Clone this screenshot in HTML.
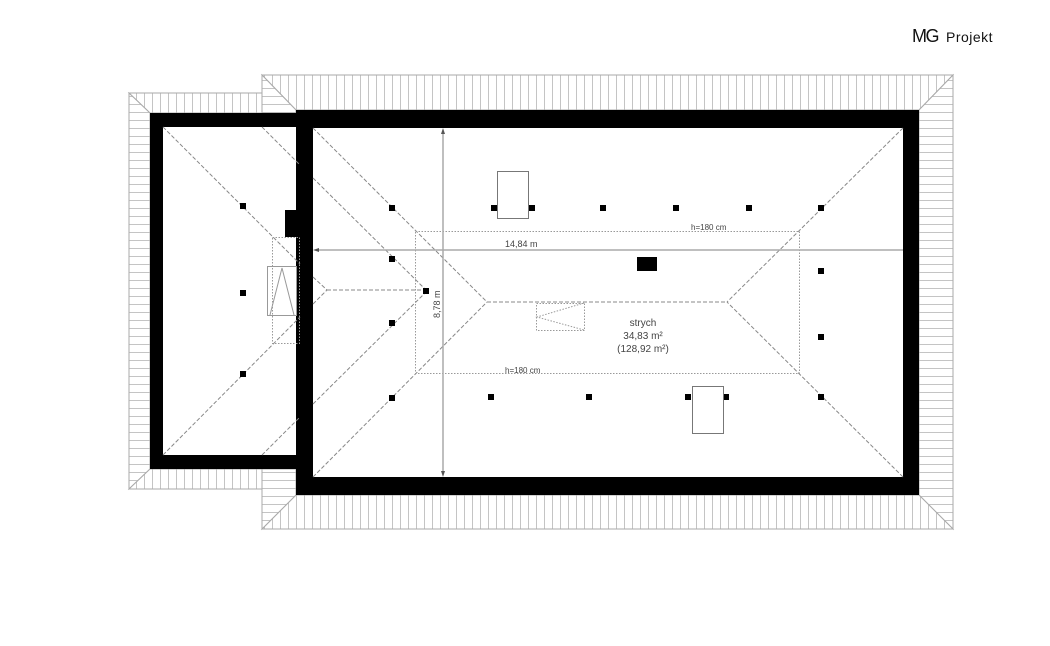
<!DOCTYPE html>
<html><head><meta charset="utf-8"><style>
html,body{margin:0;padding:0;background:#fff;width:1050px;height:646px;overflow:hidden}
svg{display:block}
text{font-family:"Liberation Sans",sans-serif;fill:#444}
</style></head><body>
<svg width="1050" height="646" viewBox="0 0 1050 646" xmlns="http://www.w3.org/2000/svg">
<defs>
<pattern id="v" width="8" height="8" patternUnits="userSpaceOnUse"><rect width="8" height="8" fill="#fff"/><line x1="0.5" y1="0" x2="0.5" y2="8" stroke="#c4c4c4" stroke-width="1"/></pattern>
<pattern id="h" width="8" height="8" patternUnits="userSpaceOnUse"><rect width="8" height="8" fill="#fff"/><line x1="0" y1="0.5" x2="8" y2="0.5" stroke="#c4c4c4" stroke-width="1"/></pattern>
</defs>
<g stroke="#aaa" stroke-width="1">
<polygon points="262,75 953,75 919,110 296,110" fill="url(#v)"/>
<polygon points="953,75 953,529 919,495 919,110" fill="url(#h)"/>
<polygon points="262,529 953,529 919,495 296,495" fill="url(#v)"/>
<polygon points="262,75 296,110 296,113 262,113" fill="url(#h)"/>
<polygon points="262,469 296,469 296,495 262,529" fill="url(#h)"/>
<polygon points="129,93 262,93 262,113 150,113" fill="url(#v)"/>
<polygon points="129,93 150,113 150,469 129,489" fill="url(#h)"/>
<polygon points="129,489 150,469 262,469 262,489" fill="url(#v)"/>
</g>
<path fill="#000" fill-rule="evenodd" d="M296,110H919V495H296Z M313,128H903V477H313Z"/>
<path fill="#000" fill-rule="evenodd" d="M150,113H300V469H150Z M163,127H300V455H163Z"/>
<rect x="296" y="113" width="17" height="382" fill="#000"/>
<rect x="285" y="210" width="15" height="27" fill="#000"/>
<g stroke="#888" stroke-width="1" stroke-dasharray="4,2" fill="none">
<line x1="313" y1="128" x2="487" y2="302"/>
<line x1="903" y1="128" x2="727" y2="302"/>
<line x1="313" y1="477" x2="487" y2="302"/>
<line x1="903" y1="477" x2="727" y2="302"/>
<line x1="487" y1="302" x2="727" y2="302"/>
<line x1="163" y1="127" x2="300" y2="264"/>
<line x1="313" y1="277" x2="327" y2="290"/>
<line x1="163" y1="455" x2="300" y2="317"/>
<line x1="313" y1="304" x2="327" y2="290"/>
<line x1="262" y1="127" x2="300" y2="165"/>
<line x1="313" y1="178" x2="427" y2="291"/>
<line x1="262" y1="455" x2="300" y2="417"/>
<line x1="313" y1="404" x2="427" y2="291"/>
<line x1="327" y1="290" x2="427" y2="290"/>
</g>
<g stroke="#999" stroke-width="1" stroke-dasharray="1.5,1.5" fill="none">
<rect x="415.5" y="231.5" width="384" height="142"/>
<rect x="272.5" y="237.5" width="27" height="106"/>
<rect x="536.5" y="303.5" width="48" height="27"/>
<polyline points="584,303 537,317 584,330"/>
</g>
<g stroke="#999" stroke-width="1" fill="none">
<rect x="267.5" y="266.5" width="29" height="49"/>
<polyline points="270,315 282,268 294,315"/>
</g>
<g stroke="#aaa" stroke-width="1.5">
<line x1="316" y1="250" x2="903" y2="250"/>
<line x1="443" y1="131" x2="443" y2="474"/>
</g>
<g fill="#555">
<polygon points="313,250 319,248 319,252"/>
<polygon points="443,128 441,134 445,134"/>
<polygon points="443,477 441,471 445,471"/>
</g>
<g fill="#000">
<rect x="240" y="203" width="6" height="6"/><rect x="240" y="290" width="6" height="6"/><rect x="240" y="371" width="6" height="6"/>
<rect x="389" y="205" width="6" height="6"/><rect x="389" y="256" width="6" height="6"/><rect x="389" y="320" width="6" height="6"/><rect x="389" y="395" width="6" height="6"/>
<rect x="423" y="288" width="6" height="6"/>
<rect x="491" y="205" width="6" height="6"/><rect x="529" y="205" width="6" height="6"/><rect x="600" y="205" width="6" height="6"/><rect x="673" y="205" width="6" height="6"/><rect x="746" y="205" width="6" height="6"/><rect x="818" y="205" width="6" height="6"/>
<rect x="818" y="268" width="6" height="6"/><rect x="818" y="334" width="6" height="6"/><rect x="818" y="394" width="6" height="6"/>
<rect x="488" y="394" width="6" height="6"/><rect x="586" y="394" width="6" height="6"/><rect x="685" y="394" width="6" height="6"/><rect x="723" y="394" width="6" height="6"/>
<rect x="637" y="257" width="20" height="14"/>
</g>
<g fill="#fff" stroke="#777" stroke-width="1">
<rect x="497.5" y="171.5" width="31" height="47"/>
<rect x="692.5" y="386.5" width="31" height="47"/>
</g>
<g font-size="9">
<text x="505" y="247">14,84 m</text>
<text x="691" y="230" font-size="8">h=180 cm</text>
<text x="505" y="373" font-size="8">h=180 cm</text>
<text transform="translate(440,318) rotate(-90)">8,78 m</text>
</g>
<g font-size="10" text-anchor="middle">
<text x="643" y="326">strych</text>
<text x="643" y="339">34,83 m²</text>
<text x="643" y="352">(128,92 m²)</text>
</g>
<text x="912" y="42" font-size="18" style="fill:#111;letter-spacing:-1.5px">MG</text>
<text x="946" y="42" font-size="14" style="fill:#111;letter-spacing:0.5px">Projekt</text>
</svg>
</body></html>
